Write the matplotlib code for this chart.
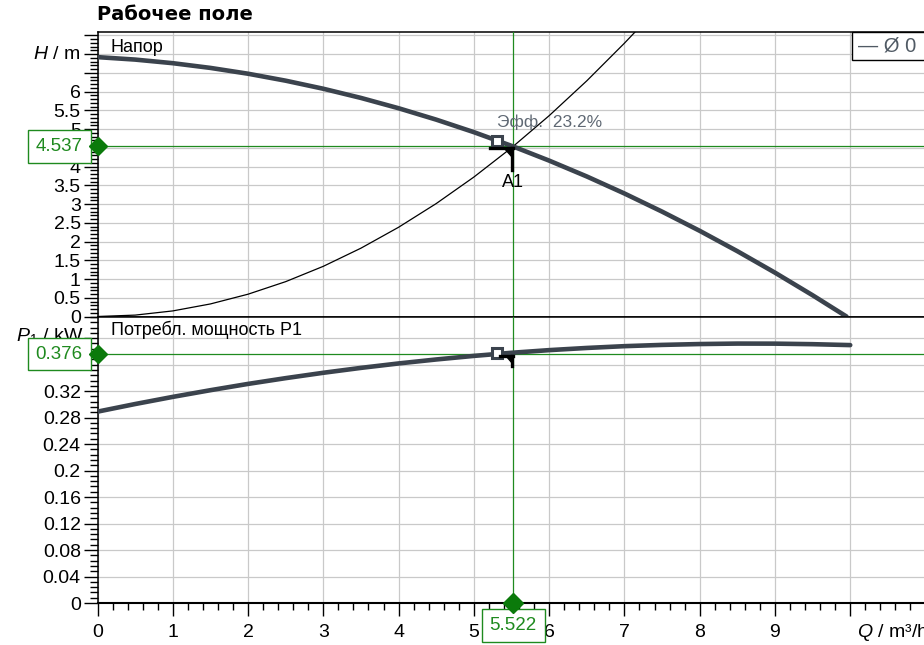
import matplotlib
matplotlib.use("Agg")
import matplotlib.pyplot as plt
from matplotlib.lines import Line2D
from matplotlib.patches import Polygon, Rectangle
from matplotlib.transforms import IdentityTransform
from matplotlib.ticker import MultipleLocator, FuncFormatter

# --- data ------------------------------------------------------------------
flow_q = [0, 0.5, 1, 1.5, 2, 2.5, 3, 3.5, 4, 4.5, 5, 5.5, 6, 6.5, 7, 7.5, 8, 8.5, 9, 9.5, 9.95]
head_h = [6.92, 6.854, 6.758, 6.632, 6.477, 6.291, 6.076, 5.831, 5.556, 5.252, 4.918,
          4.553, 4.159, 3.736, 3.282, 2.798, 2.286, 1.743, 1.170, 0.567, 0.0]

system_q = [0, 0.5, 1, 1.5, 2, 2.5, 3, 3.5, 4, 4.5, 5, 5.5, 6, 6.5, 7, 7.2]
system_h = [0, 0.037, 0.149, 0.335, 0.595, 0.930, 1.339, 1.823, 2.381, 3.013, 3.720,
            4.501, 5.357, 6.287, 7.291, 7.714]

power_q = [0, 0.5, 1, 1.5, 2, 2.5, 3, 3.5, 4, 4.5, 5, 5.5, 6, 6.5, 7, 7.5, 8, 8.5, 9, 9.5, 10]
power_p = [0.289, 0.3005, 0.3113, 0.3214, 0.3309, 0.3396, 0.3477, 0.3551, 0.3618, 0.3678,
           0.3732, 0.3779, 0.3819, 0.3852, 0.3879, 0.3898, 0.3911, 0.3918, 0.3917, 0.3909, 0.3895]

op_q, op_h, op_p = 5.522, 4.537, 0.376
eff_q, eff_h, eff_p = 5.31, 4.69, 0.377
eff_label = "Эфф.  23.2%"

# tick labels hidden behind the value boxes in the reference
hidden_h = {4.5, 6.5, 7.0, 7.5}
hidden_p = {0.36, 0.4}

# --- style -------------------------------------------------------------------
CURVE = "#3b434d"
GREEN = "#1f8a1f"
DGREEN = "#0b7a0b"
GRIDC = "#c9c9c9"
GREY = "#5f6873"
FS_TICK = 14
FS_BOX = 13.5
FS_TXT = 13

plt.rcParams.update({
    "font.family": ["Liberation Sans", "DejaVu Sans"],
    "mathtext.fontset": "custom",
    "mathtext.rm": "Liberation Sans",
    "mathtext.it": "Liberation Sans:italic",
    "font.size": FS_TXT,
})

W, H = 924, 645
fig = plt.figure(figsize=(W / 100, H / 100), dpi=100)


def frac(l, t, r, b):
    return [l / W, 1 - b / H, (r - l) / W, (b - t) / H]


ax_h = fig.add_axes(frac(97.5, 32, 925.5, 316.5))
ax_p = fig.add_axes(frac(97.5, 316.5, 925.5, 603))

for ax in (ax_h, ax_p):
    ax.set_xlim(0, 11)
    ax.spines["right"].set_visible(False)
    for s in ("left", "top", "bottom"):
        ax.spines[s].set_color("black")
        ax.spines[s].set_linewidth(1.1)
    ax.set_xticks(range(0, 12))
    ax.grid(True, which="major", color=GRIDC, linewidth=0.9)
    ax.set_axisbelow(True)
    ax.tick_params(axis="y", which="major", direction="out", length=10, width=1.0,
                   pad=2, labelsize=FS_TICK, colors="black")
    ax.tick_params(axis="y", which="minor", direction="out", length=6, width=1.0)

ax_p.spines["bottom"].set_linewidth(1.5)


def fmt_skip(hidden):
    return FuncFormatter(lambda v, p: "" if round(v, 3) in hidden else f"{round(v, 3):g}")


# head panel
ax_h.set_ylim(0, 7.59)
ax_h.yaxis.set_major_locator(MultipleLocator(0.5))
ax_h.yaxis.set_minor_locator(MultipleLocator(0.1))
ax_h.yaxis.set_major_formatter(fmt_skip(hidden_h))
ax_h.tick_params(axis="x", length=0, labelbottom=False)

# power panel
ax_p.set_ylim(0, 0.4327)
ax_p.yaxis.set_major_locator(MultipleLocator(0.04))
ax_p.yaxis.set_minor_locator(MultipleLocator(0.008))
ax_p.yaxis.set_major_formatter(fmt_skip(hidden_p))
ax_p.xaxis.set_minor_locator(MultipleLocator(0.2))
ax_p.xaxis.set_major_formatter(FuncFormatter(lambda v, p: "" if v > 9.5 else f"{v:g}"))
ax_p.tick_params(axis="x", which="major", direction="out", length=9, width=1.0, pad=6,
                 labelsize=FS_TICK, colors="black")
ax_p.tick_params(axis="x", which="minor", direction="out", length=5, width=1.0)

# curves
ax_h.plot(system_q, system_h, color="black", lw=0.9, zorder=3)
ax_h.plot(flow_q, head_h, color=CURVE, lw=3.3, solid_capstyle="round", zorder=4)
ax_p.plot(power_q, power_p, color=CURVE, lw=3.3, solid_capstyle="round", zorder=4)

# operating point lines
ax_h.axhline(op_h, color=GREEN, lw=0.9, zorder=3.5)
ax_h.axvline(op_q, color=GREEN, lw=0.9, zorder=3.5)
ax_p.axhline(op_p, color=GREEN, lw=0.9, zorder=3.5)
ax_p.axvline(op_q, color=GREEN, lw=0.9, zorder=3.5)

# efficiency squares
for ax, yv in ((ax_h, eff_h), (ax_p, eff_p)):
    ax.plot([eff_q], [yv], marker="s", ms=7.5, mfc="white", mec=CURVE, mew=2.2, zorder=6)
ax_h.annotate(eff_label, (eff_q, eff_h), xytext=(0, 8), textcoords="offset points",
              ha="left", va="bottom", color=GREY, fontsize=12.5, zorder=7)

# A1 marks in pixel space
fig.canvas.draw()


def op_mark(ax, x, y, hlen, vlen, tri):
    px, py = ax.transData.transform((x, y))
    py -= 1.5
    idt = IdentityTransform()
    fig.add_artist(Line2D([px - hlen, px], [py, py], color="black", lw=2.4, transform=idt, zorder=8))
    fig.add_artist(Line2D([px - 1, px - 1], [py, py - vlen], color="black", lw=2.4, transform=idt, zorder=8))
    fig.add_artist(Polygon([[px - tri, py], [px - 1, py], [px - 1, py - tri]], closed=True,
                           color="black", transform=idt, zorder=8))


op_mark(ax_h, op_q, op_h, 23, 22, 9)
op_mark(ax_p, op_q, op_p, 13, 10, 7)
ax_h.annotate("A1", (op_q, op_h), xytext=(0, -26), textcoords="offset points",
              ha="center", va="center", fontsize=FS_TXT, color="black", zorder=7)

# green value boxes + diamonds
box = dict(boxstyle="square,pad=0.42", fc="white", ec=GREEN, lw=1.0)
ax_h.annotate(f"{op_h:g}", (0, op_h), xytext=(-27.5, 0), textcoords="offset points",
              ha="center", va="center", color=GREEN, fontsize=FS_BOX, bbox=box,
              annotation_clip=False, zorder=9)
ax_p.annotate(f"{op_p:g}", (0, op_p), xytext=(-27.5, 0), textcoords="offset points",
              ha="center", va="center", color=GREEN, fontsize=FS_BOX, bbox=box,
              annotation_clip=False, zorder=9)
ax_p.annotate(f"{op_q:g}", (op_q, 0), xytext=(0, -16), textcoords="offset points",
              ha="center", va="center", color=GREEN, fontsize=FS_BOX, bbox=box,
              annotation_clip=False, zorder=9)
ax_h.plot([0], [op_h], marker="D", ms=9.5, color=DGREEN, clip_on=False, zorder=10)
ax_p.plot([0], [op_p], marker="D", ms=9.5, color=DGREEN, clip_on=False, zorder=10)
ax_p.plot([op_q], [0], marker="D", ms=10.5, color=DGREEN, clip_on=False, zorder=10)

# axis names
ax_h.annotate("$H$ / m", (0, 7), xytext=(-12, 0), textcoords="offset points",
              ha="right", va="center", fontsize=FS_TICK, annotation_clip=False)
ax_p.annotate("$P_{\\mathrm{1}}$ / kW", (0, 0.4), xytext=(-10, 1.5), textcoords="offset points",
              ha="right", va="center", fontsize=FS_TICK, annotation_clip=False, zorder=2.6)
ax_p.annotate("$Q$ / m³/h", (10, 0), xytext=(5, -21), textcoords="offset points",
              ha="left", va="center", fontsize=FS_TICK, annotation_clip=False)

# panel captions
ax_h.text(0.016, 0.975, "Напор", transform=ax_h.transAxes, ha="left", va="top", fontsize=FS_TXT)
ax_p.text(0.016, 0.985, "Потребл. мощность P1", transform=ax_p.transAxes,
          ha="left", va="top", fontsize=FS_TXT)

# title
fig.text(97 / W, 1 - 15 / H, "Рабочее поле", ha="left", va="center",
         fontsize=14, fontweight="bold", family="DejaVu Sans")

# legend stub (right edge clipped by figure)
fig.add_artist(Rectangle((852 / W, 1 - 60 / H), 90 / W, 28 / H, transform=fig.transFigure,
                         fc="white", ec="black", lw=1.0, zorder=11))
fig.text(858 / W, 1 - 46.5 / H, "— Ø 0", ha="left", va="center", fontsize=14.5,
         color="#505a64", zorder=12)

fig.savefig("out.png", dpi=100)
